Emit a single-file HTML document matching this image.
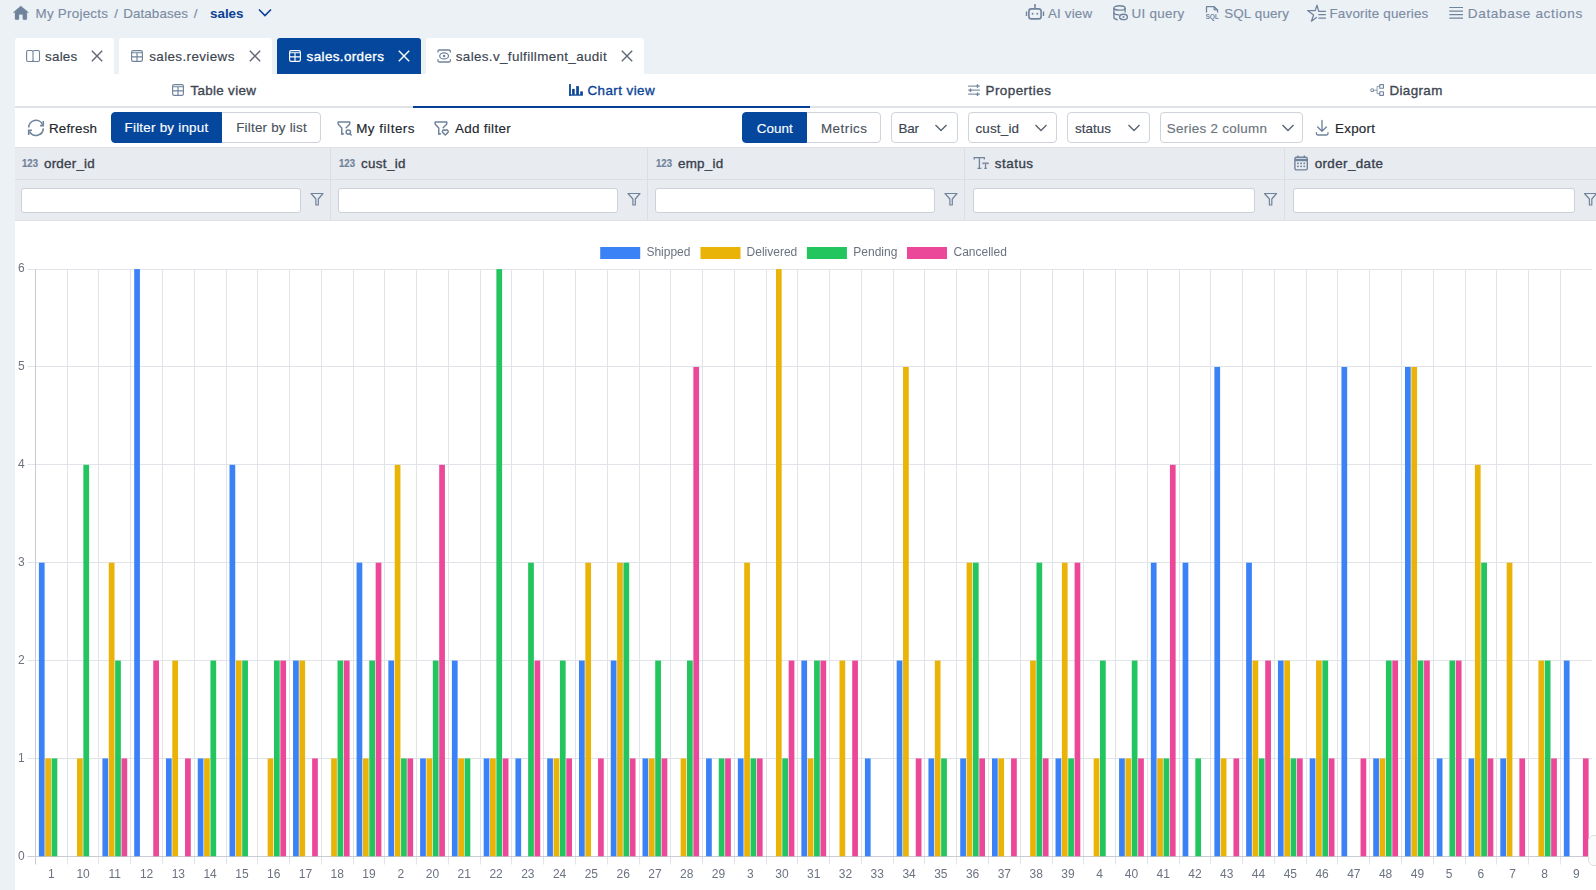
<!DOCTYPE html>
<html><head><meta charset="utf-8"><title>sales.orders - Chart view</title>
<style>
*{margin:0;padding:0;box-sizing:border-box}
html,body{width:1596px;height:890px;overflow:hidden;background:#ecf1f6;font-family:'Liberation Sans', Arial, sans-serif}
.t{position:absolute;white-space:nowrap}
.i{position:absolute;overflow:visible}
.tab{position:absolute;top:38px;height:36px;border-radius:3px 3px 0 0}
#panel{position:absolute;left:15px;top:74px;width:1600px;height:830px;background:#fff}
.hl{position:absolute;left:15px;width:1600px}
.vl{position:absolute;top:147px;height:74px;width:1px;background:#dbdfe4}
.btn{position:absolute;border:1px solid #cfd4da;background:#fff}
.inp{position:absolute;top:188px;height:25px;border:1px solid #cdd2d9;border-radius:3px;background:#fff}
#chart,#icons{position:absolute;left:0;top:0} #chart{will-change:transform}
</style></head>
<body>

<div class="t" style="left:35.50px;top:7.00px;font-size:13.4px;line-height:13.4px;font-weight:400;color:#7c8ca3;font-family:'Liberation Sans', Arial, sans-serif;letter-spacing:0.250px;-webkit-text-stroke:0.15px #7c8ca3;">My Projects</div>
<div class="t" style="left:114.30px;top:7.00px;font-size:13.4px;line-height:13.4px;font-weight:400;color:#7c8ca3;font-family:'Liberation Sans', Arial, sans-serif;-webkit-text-stroke:0.15px #7c8ca3;">/</div>
<div class="t" style="left:123.20px;top:7.00px;font-size:13.4px;line-height:13.4px;font-weight:400;color:#7c8ca3;font-family:'Liberation Sans', Arial, sans-serif;letter-spacing:0.100px;-webkit-text-stroke:0.15px #7c8ca3;">Databases</div>
<div class="t" style="left:193.80px;top:7.00px;font-size:13.4px;line-height:13.4px;font-weight:400;color:#7c8ca3;font-family:'Liberation Sans', Arial, sans-serif;-webkit-text-stroke:0.15px #7c8ca3;">/</div>
<div class="t" style="left:210.00px;top:7.00px;font-size:13.4px;line-height:13.4px;font-weight:700;color:#0b3f92;font-family:'Liberation Sans', Arial, sans-serif;">sales</div>


<div class="t" style="left:1048.00px;top:7.00px;font-size:13.4px;line-height:13.4px;font-weight:400;color:#7c8ca3;font-family:'Liberation Sans', Arial, sans-serif;letter-spacing:0.150px;-webkit-text-stroke:0.15px #7c8ca3;">AI view</div>

<div class="t" style="left:1131.60px;top:7.00px;font-size:13.4px;line-height:13.4px;font-weight:400;color:#7c8ca3;font-family:'Liberation Sans', Arial, sans-serif;letter-spacing:0.271px;-webkit-text-stroke:0.15px #7c8ca3;">UI query</div>

<div class="t" style="left:1224.20px;top:7.00px;font-size:13.4px;line-height:13.4px;font-weight:400;color:#7c8ca3;font-family:'Liberation Sans', Arial, sans-serif;letter-spacing:0.150px;-webkit-text-stroke:0.15px #7c8ca3;">SQL query</div>

<div class="t" style="left:1329.50px;top:7.00px;font-size:13.4px;line-height:13.4px;font-weight:400;color:#7c8ca3;font-family:'Liberation Sans', Arial, sans-serif;letter-spacing:0.187px;-webkit-text-stroke:0.15px #7c8ca3;">Favorite queries</div>

<div class="t" style="left:1467.80px;top:7.00px;font-size:13.6px;line-height:13.6px;font-weight:400;color:#7c8ca3;font-family:'Liberation Sans', Arial, sans-serif;letter-spacing:0.627px;-webkit-text-stroke:0.15px #7c8ca3;">Database actions</div>
<div class="tab" style="left:15px;width:99px;background:#fff"></div>
<div class="tab" style="left:119px;width:153px;background:#fff"></div>
<div class="tab" style="left:277px;width:144px;background:#05479c"></div>
<div class="tab" style="left:426px;width:218px;background:#fff"></div>

<div class="t" style="left:45.00px;top:50.00px;font-size:13.4px;line-height:13.4px;font-weight:400;color:#3a4350;font-family:'Liberation Sans', Arial, sans-serif;letter-spacing:0.250px;-webkit-text-stroke:0.15px #3a4350;">sales</div>


<div class="t" style="left:149.20px;top:50.00px;font-size:13.4px;line-height:13.4px;font-weight:400;color:#3a4350;font-family:'Liberation Sans', Arial, sans-serif;letter-spacing:0.400px;-webkit-text-stroke:0.15px #3a4350;">sales.reviews</div>


<div class="t" style="left:306.60px;top:50.00px;font-size:13.4px;line-height:13.4px;font-weight:400;color:#fff;font-family:'Liberation Sans', Arial, sans-serif;letter-spacing:0.391px;-webkit-text-stroke:0.35px #fff;">sales.orders</div>


<div class="t" style="left:455.80px;top:50.00px;font-size:13.4px;line-height:13.4px;font-weight:400;color:#3a4350;font-family:'Liberation Sans', Arial, sans-serif;letter-spacing:0.362px;-webkit-text-stroke:0.15px #3a4350;">sales.v_fulfillment_audit</div>

<div id="panel"></div>
<div class="hl" style="top:106px;height:2px;background:#dfe3e8"></div>
<div class="hl" style="left:413px;width:397px;top:106px;height:2px;background:#053f96"></div>

<div class="t" style="left:190.40px;top:84.00px;font-size:13.4px;line-height:13.4px;font-weight:400;color:#3d4652;font-family:'Liberation Sans', Arial, sans-serif;letter-spacing:0.333px;-webkit-text-stroke:0.35px #3d4652;">Table view</div>

<div class="t" style="left:587.50px;top:84.00px;font-size:13.4px;line-height:13.4px;font-weight:400;color:#0b4397;font-family:'Liberation Sans', Arial, sans-serif;letter-spacing:0.433px;-webkit-text-stroke:0.35px #0b4397;">Chart view</div>

<div class="t" style="left:985.50px;top:84.00px;font-size:13.4px;line-height:13.4px;font-weight:400;color:#3d4652;font-family:'Liberation Sans', Arial, sans-serif;letter-spacing:0.478px;-webkit-text-stroke:0.35px #3d4652;">Properties</div>

<div class="t" style="left:1389.40px;top:84.00px;font-size:13.4px;line-height:13.4px;font-weight:400;color:#3d4652;font-family:'Liberation Sans', Arial, sans-serif;letter-spacing:0.383px;-webkit-text-stroke:0.35px #3d4652;">Diagram</div>

<div class="t" style="left:48.90px;top:122.00px;font-size:13.4px;line-height:13.4px;font-weight:400;color:#22272e;font-family:'Liberation Sans', Arial, sans-serif;letter-spacing:0.200px;-webkit-text-stroke:0.15px #22272e;">Refresh</div>
<div class="btn" style="left:216px;top:112px;width:105px;height:31px;border-radius:0 4px 4px 0"></div>
<div class="btn" style="left:111px;top:112px;width:111px;height:31px;background:#05479c;border-color:#05479c;border-radius:4px 0 0 4px"></div>
<div class="t" style="left:124.50px;top:121.00px;font-size:13.4px;line-height:13.4px;font-weight:400;color:#fff;font-family:'Liberation Sans', Arial, sans-serif;letter-spacing:0.236px;-webkit-text-stroke:0.15px #fff;">Filter by input</div>
<div class="t" style="left:236.20px;top:121.00px;font-size:13.4px;line-height:13.4px;font-weight:400;color:#4a525d;font-family:'Liberation Sans', Arial, sans-serif;letter-spacing:0.215px;-webkit-text-stroke:0.15px #4a525d;">Filter by list</div>

<div class="t" style="left:356.20px;top:122.00px;font-size:13.4px;line-height:13.4px;font-weight:400;color:#22272e;font-family:'Liberation Sans', Arial, sans-serif;letter-spacing:0.533px;-webkit-text-stroke:0.15px #22272e;">My filters</div>

<div class="t" style="left:455.00px;top:122.00px;font-size:13.4px;line-height:13.4px;font-weight:400;color:#22272e;font-family:'Liberation Sans', Arial, sans-serif;letter-spacing:0.311px;-webkit-text-stroke:0.15px #22272e;">Add filter</div>
<div class="btn" style="left:800px;top:112px;width:81px;height:31px;border-radius:0 4px 4px 0"></div>
<div class="btn" style="left:742px;top:112px;width:65px;height:31px;background:#05479c;border-color:#05479c;border-radius:4px 0 0 4px"></div>
<div class="t" style="left:756.80px;top:122.00px;font-size:13.4px;line-height:13.4px;font-weight:400;color:#fff;font-family:'Liberation Sans', Arial, sans-serif;letter-spacing:0.075px;-webkit-text-stroke:0.15px #fff;">Count</div>
<div class="t" style="left:821.00px;top:122.00px;font-size:13.4px;line-height:13.4px;font-weight:400;color:#4a525d;font-family:'Liberation Sans', Arial, sans-serif;letter-spacing:0.467px;-webkit-text-stroke:0.15px #4a525d;">Metrics</div>
<div class="btn" style="left:891px;top:112px;width:67px;height:31px;border-radius:4px"></div>
<div class="t" style="left:898.50px;top:122.00px;font-size:13.4px;line-height:13.4px;font-weight:400;color:#3a4350;font-family:'Liberation Sans', Arial, sans-serif;letter-spacing:-0.150px;-webkit-text-stroke:0.15px #3a4350;">Bar</div>

<div class="btn" style="left:968px;top:112px;width:89px;height:31px;border-radius:4px"></div>
<div class="t" style="left:975.40px;top:122.00px;font-size:13.4px;line-height:13.4px;font-weight:400;color:#3a4350;font-family:'Liberation Sans', Arial, sans-serif;letter-spacing:0.200px;-webkit-text-stroke:0.15px #3a4350;">cust_id</div>

<div class="btn" style="left:1067px;top:112px;width:83px;height:31px;border-radius:4px"></div>
<div class="t" style="left:1075.00px;top:122.00px;font-size:13.4px;line-height:13.4px;font-weight:400;color:#3a4350;font-family:'Liberation Sans', Arial, sans-serif;letter-spacing:0.060px;-webkit-text-stroke:0.15px #3a4350;">status</div>

<div class="btn" style="left:1160px;top:112px;width:143px;height:31px;border-radius:4px"></div>
<div class="t" style="left:1166.70px;top:122.00px;font-size:13.4px;line-height:13.4px;font-weight:400;color:#6b737d;font-family:'Liberation Sans', Arial, sans-serif;letter-spacing:0.300px;-webkit-text-stroke:0.15px #6b737d;">Series 2 column</div>


<div class="t" style="left:1335.00px;top:122.00px;font-size:13.4px;line-height:13.4px;font-weight:400;color:#22272e;font-family:'Liberation Sans', Arial, sans-serif;letter-spacing:0.260px;-webkit-text-stroke:0.15px #22272e;">Export</div>
<div class="hl" style="top:147px;height:74px;background:#e8ebef"></div>
<div class="hl" style="top:147px;height:1px;background:#dde1e6"></div>
<div class="hl" style="top:179px;height:1px;background:#dbdfe4"></div>
<div class="hl" style="top:220px;height:1px;background:#dde1e6"></div>
<div class="vl" style="left:330px"></div>
<div class="vl" style="left:647px"></div>
<div class="vl" style="left:964px"></div>
<div class="vl" style="left:1284px"></div>
<div class="t" style="left:22.20px;top:158.00px;font-size:11px;line-height:11px;font-weight:700;color:#70839c;font-family:'Liberation Sans', Arial, sans-serif;transform:scaleX(0.87);transform-origin:0 0;-webkit-text-stroke:0.2px #70839c;">123</div>
<div class="t" style="left:44.00px;top:157.00px;font-size:13.4px;line-height:13.4px;font-weight:400;color:#38414d;font-family:'Liberation Sans', Arial, sans-serif;letter-spacing:0.229px;-webkit-text-stroke:0.35px #38414d;">order_id</div>
<div class="t" style="left:339.30px;top:158.00px;font-size:11px;line-height:11px;font-weight:700;color:#70839c;font-family:'Liberation Sans', Arial, sans-serif;transform:scaleX(0.87);transform-origin:0 0;-webkit-text-stroke:0.2px #70839c;">123</div>
<div class="t" style="left:360.90px;top:157.00px;font-size:13.4px;line-height:13.4px;font-weight:400;color:#38414d;font-family:'Liberation Sans', Arial, sans-serif;letter-spacing:0.367px;-webkit-text-stroke:0.35px #38414d;">cust_id</div>
<div class="t" style="left:656.30px;top:158.00px;font-size:11px;line-height:11px;font-weight:700;color:#70839c;font-family:'Liberation Sans', Arial, sans-serif;transform:scaleX(0.87);transform-origin:0 0;-webkit-text-stroke:0.2px #70839c;">123</div>
<div class="t" style="left:677.90px;top:157.00px;font-size:13.4px;line-height:13.4px;font-weight:400;color:#38414d;font-family:'Liberation Sans', Arial, sans-serif;letter-spacing:0.300px;-webkit-text-stroke:0.35px #38414d;">emp_id</div>

<div class="t" style="left:994.80px;top:157.00px;font-size:13.4px;line-height:13.4px;font-weight:400;color:#38414d;font-family:'Liberation Sans', Arial, sans-serif;letter-spacing:0.500px;-webkit-text-stroke:0.35px #38414d;">status</div>

<div class="t" style="left:1314.70px;top:157.00px;font-size:13.4px;line-height:13.4px;font-weight:400;color:#38414d;font-family:'Liberation Sans', Arial, sans-serif;letter-spacing:0.389px;-webkit-text-stroke:0.35px #38414d;">order_date</div>
<div class="inp" style="left:21px;width:280px"></div>

<div class="inp" style="left:338px;width:280px"></div>

<div class="inp" style="left:655px;width:280px"></div>

<div class="inp" style="left:972.5px;width:282.0px"></div>

<div class="inp" style="left:1292.5px;width:282.0px"></div>

<svg id="chart" width="1596" height="890" viewBox="0 0 1596 890" font-family="'Liberation Sans', Arial, sans-serif"><line x1="27.5" y1="758.5" x2="1592" y2="758.5" stroke="#e0e4e9" stroke-width="1"/><line x1="27.5" y1="660.5" x2="1592" y2="660.5" stroke="#e0e4e9" stroke-width="1"/><line x1="27.5" y1="562.5" x2="1592" y2="562.5" stroke="#e0e4e9" stroke-width="1"/><line x1="27.5" y1="464.5" x2="1592" y2="464.5" stroke="#e0e4e9" stroke-width="1"/><line x1="27.5" y1="366.5" x2="1592" y2="366.5" stroke="#e0e4e9" stroke-width="1"/><line x1="27.5" y1="269.5" x2="1592" y2="269.5" stroke="#e0e4e9" stroke-width="1"/><text x="24.6" y="860" text-anchor="end" font-size="12" fill="#6b7280">0</text><text x="24.6" y="762" text-anchor="end" font-size="12" fill="#6b7280">1</text><text x="24.6" y="664" text-anchor="end" font-size="12" fill="#6b7280">2</text><text x="24.6" y="566" text-anchor="end" font-size="12" fill="#6b7280">3</text><text x="24.6" y="468" text-anchor="end" font-size="12" fill="#6b7280">4</text><text x="24.6" y="370" text-anchor="end" font-size="12" fill="#6b7280">5</text><text x="24.6" y="272" text-anchor="end" font-size="12" fill="#6b7280">6</text><line x1="67.5" y1="269" x2="67.5" y2="864.5" stroke="#e0e4e9" stroke-width="1"/><line x1="98.5" y1="269" x2="98.5" y2="864.5" stroke="#e0e4e9" stroke-width="1"/><line x1="130.5" y1="269" x2="130.5" y2="864.5" stroke="#e0e4e9" stroke-width="1"/><line x1="162.5" y1="269" x2="162.5" y2="864.5" stroke="#e0e4e9" stroke-width="1"/><line x1="194.5" y1="269" x2="194.5" y2="864.5" stroke="#e0e4e9" stroke-width="1"/><line x1="226.5" y1="269" x2="226.5" y2="864.5" stroke="#e0e4e9" stroke-width="1"/><line x1="257.5" y1="269" x2="257.5" y2="864.5" stroke="#e0e4e9" stroke-width="1"/><line x1="289.5" y1="269" x2="289.5" y2="864.5" stroke="#e0e4e9" stroke-width="1"/><line x1="321.5" y1="269" x2="321.5" y2="864.5" stroke="#e0e4e9" stroke-width="1"/><line x1="353.5" y1="269" x2="353.5" y2="864.5" stroke="#e0e4e9" stroke-width="1"/><line x1="384.5" y1="269" x2="384.5" y2="864.5" stroke="#e0e4e9" stroke-width="1"/><line x1="416.5" y1="269" x2="416.5" y2="864.5" stroke="#e0e4e9" stroke-width="1"/><line x1="448.5" y1="269" x2="448.5" y2="864.5" stroke="#e0e4e9" stroke-width="1"/><line x1="480.5" y1="269" x2="480.5" y2="864.5" stroke="#e0e4e9" stroke-width="1"/><line x1="511.5" y1="269" x2="511.5" y2="864.5" stroke="#e0e4e9" stroke-width="1"/><line x1="543.5" y1="269" x2="543.5" y2="864.5" stroke="#e0e4e9" stroke-width="1"/><line x1="575.5" y1="269" x2="575.5" y2="864.5" stroke="#e0e4e9" stroke-width="1"/><line x1="607.5" y1="269" x2="607.5" y2="864.5" stroke="#e0e4e9" stroke-width="1"/><line x1="639.5" y1="269" x2="639.5" y2="864.5" stroke="#e0e4e9" stroke-width="1"/><line x1="670.5" y1="269" x2="670.5" y2="864.5" stroke="#e0e4e9" stroke-width="1"/><line x1="702.5" y1="269" x2="702.5" y2="864.5" stroke="#e0e4e9" stroke-width="1"/><line x1="734.5" y1="269" x2="734.5" y2="864.5" stroke="#e0e4e9" stroke-width="1"/><line x1="766.5" y1="269" x2="766.5" y2="864.5" stroke="#e0e4e9" stroke-width="1"/><line x1="797.5" y1="269" x2="797.5" y2="864.5" stroke="#e0e4e9" stroke-width="1"/><line x1="829.5" y1="269" x2="829.5" y2="864.5" stroke="#e0e4e9" stroke-width="1"/><line x1="861.5" y1="269" x2="861.5" y2="864.5" stroke="#e0e4e9" stroke-width="1"/><line x1="893.5" y1="269" x2="893.5" y2="864.5" stroke="#e0e4e9" stroke-width="1"/><line x1="924.5" y1="269" x2="924.5" y2="864.5" stroke="#e0e4e9" stroke-width="1"/><line x1="956.5" y1="269" x2="956.5" y2="864.5" stroke="#e0e4e9" stroke-width="1"/><line x1="988.5" y1="269" x2="988.5" y2="864.5" stroke="#e0e4e9" stroke-width="1"/><line x1="1020.5" y1="269" x2="1020.5" y2="864.5" stroke="#e0e4e9" stroke-width="1"/><line x1="1052.5" y1="269" x2="1052.5" y2="864.5" stroke="#e0e4e9" stroke-width="1"/><line x1="1083.5" y1="269" x2="1083.5" y2="864.5" stroke="#e0e4e9" stroke-width="1"/><line x1="1115.5" y1="269" x2="1115.5" y2="864.5" stroke="#e0e4e9" stroke-width="1"/><line x1="1147.5" y1="269" x2="1147.5" y2="864.5" stroke="#e0e4e9" stroke-width="1"/><line x1="1179.5" y1="269" x2="1179.5" y2="864.5" stroke="#e0e4e9" stroke-width="1"/><line x1="1210.5" y1="269" x2="1210.5" y2="864.5" stroke="#e0e4e9" stroke-width="1"/><line x1="1242.5" y1="269" x2="1242.5" y2="864.5" stroke="#e0e4e9" stroke-width="1"/><line x1="1274.5" y1="269" x2="1274.5" y2="864.5" stroke="#e0e4e9" stroke-width="1"/><line x1="1306.5" y1="269" x2="1306.5" y2="864.5" stroke="#e0e4e9" stroke-width="1"/><line x1="1337.5" y1="269" x2="1337.5" y2="864.5" stroke="#e0e4e9" stroke-width="1"/><line x1="1369.5" y1="269" x2="1369.5" y2="864.5" stroke="#e0e4e9" stroke-width="1"/><line x1="1401.5" y1="269" x2="1401.5" y2="864.5" stroke="#e0e4e9" stroke-width="1"/><line x1="1433.5" y1="269" x2="1433.5" y2="864.5" stroke="#e0e4e9" stroke-width="1"/><line x1="1465.5" y1="269" x2="1465.5" y2="864.5" stroke="#e0e4e9" stroke-width="1"/><line x1="1496.5" y1="269" x2="1496.5" y2="864.5" stroke="#e0e4e9" stroke-width="1"/><line x1="1528.5" y1="269" x2="1528.5" y2="864.5" stroke="#e0e4e9" stroke-width="1"/><line x1="1560.5" y1="269" x2="1560.5" y2="864.5" stroke="#e0e4e9" stroke-width="1"/><line x1="27.5" y1="856.5" x2="1592" y2="856.5" stroke="#c9cdd3" stroke-width="1"/><line x1="35.5" y1="269" x2="35.5" y2="864.5" stroke="#c9cdd3" stroke-width="1"/><rect x="38.89" y="562.70" width="5.72" height="293.60" fill="#3b82f6"/><rect x="45.25" y="758.43" width="5.72" height="97.87" fill="#eab308"/><rect x="51.60" y="758.43" width="5.72" height="97.87" fill="#22c55e"/><text x="51.28" y="878" text-anchor="middle" font-size="12" fill="#6b7280">1</text><rect x="77.02" y="758.43" width="5.72" height="97.87" fill="#eab308"/><rect x="83.37" y="464.83" width="5.72" height="391.47" fill="#22c55e"/><text x="83.06" y="878" text-anchor="middle" font-size="12" fill="#6b7280">10</text><rect x="102.43" y="758.43" width="5.72" height="97.87" fill="#3b82f6"/><rect x="108.79" y="562.70" width="5.72" height="293.60" fill="#eab308"/><rect x="115.14" y="660.57" width="5.72" height="195.73" fill="#22c55e"/><rect x="121.50" y="758.43" width="5.72" height="97.87" fill="#ec4899"/><text x="114.82" y="878" text-anchor="middle" font-size="12" fill="#6b7280">11</text><rect x="134.20" y="269.10" width="5.72" height="587.20" fill="#3b82f6"/><rect x="153.27" y="660.57" width="5.72" height="195.73" fill="#ec4899"/><text x="146.59" y="878" text-anchor="middle" font-size="12" fill="#6b7280">12</text><rect x="165.97" y="758.43" width="5.72" height="97.87" fill="#3b82f6"/><rect x="172.33" y="660.57" width="5.72" height="195.73" fill="#eab308"/><rect x="185.04" y="758.43" width="5.72" height="97.87" fill="#ec4899"/><text x="178.37" y="878" text-anchor="middle" font-size="12" fill="#6b7280">13</text><rect x="197.74" y="758.43" width="5.72" height="97.87" fill="#3b82f6"/><rect x="204.10" y="758.43" width="5.72" height="97.87" fill="#eab308"/><rect x="210.45" y="660.57" width="5.72" height="195.73" fill="#22c55e"/><text x="210.13" y="878" text-anchor="middle" font-size="12" fill="#6b7280">14</text><rect x="229.51" y="464.83" width="5.72" height="391.47" fill="#3b82f6"/><rect x="235.87" y="660.57" width="5.72" height="195.73" fill="#eab308"/><rect x="242.22" y="660.57" width="5.72" height="195.73" fill="#22c55e"/><text x="241.91" y="878" text-anchor="middle" font-size="12" fill="#6b7280">15</text><rect x="267.64" y="758.43" width="5.72" height="97.87" fill="#eab308"/><rect x="273.99" y="660.57" width="5.72" height="195.73" fill="#22c55e"/><rect x="280.35" y="660.57" width="5.72" height="195.73" fill="#ec4899"/><text x="273.68" y="878" text-anchor="middle" font-size="12" fill="#6b7280">16</text><rect x="293.05" y="660.57" width="5.72" height="195.73" fill="#3b82f6"/><rect x="299.41" y="660.57" width="5.72" height="195.73" fill="#eab308"/><rect x="312.12" y="758.43" width="5.72" height="97.87" fill="#ec4899"/><text x="305.44" y="878" text-anchor="middle" font-size="12" fill="#6b7280">17</text><rect x="331.18" y="758.43" width="5.72" height="97.87" fill="#eab308"/><rect x="337.53" y="660.57" width="5.72" height="195.73" fill="#22c55e"/><rect x="343.89" y="660.57" width="5.72" height="195.73" fill="#ec4899"/><text x="337.21" y="878" text-anchor="middle" font-size="12" fill="#6b7280">18</text><rect x="356.59" y="562.70" width="5.72" height="293.60" fill="#3b82f6"/><rect x="362.95" y="758.43" width="5.72" height="97.87" fill="#eab308"/><rect x="369.30" y="660.57" width="5.72" height="195.73" fill="#22c55e"/><rect x="375.66" y="562.70" width="5.72" height="293.60" fill="#ec4899"/><text x="368.98" y="878" text-anchor="middle" font-size="12" fill="#6b7280">19</text><rect x="388.36" y="660.57" width="5.72" height="195.73" fill="#3b82f6"/><rect x="394.72" y="464.83" width="5.72" height="391.47" fill="#eab308"/><rect x="401.07" y="758.43" width="5.72" height="97.87" fill="#22c55e"/><rect x="407.43" y="758.43" width="5.72" height="97.87" fill="#ec4899"/><text x="400.75" y="878" text-anchor="middle" font-size="12" fill="#6b7280">2</text><rect x="420.13" y="758.43" width="5.72" height="97.87" fill="#3b82f6"/><rect x="426.49" y="758.43" width="5.72" height="97.87" fill="#eab308"/><rect x="432.84" y="660.57" width="5.72" height="195.73" fill="#22c55e"/><rect x="439.20" y="464.83" width="5.72" height="391.47" fill="#ec4899"/><text x="432.52" y="878" text-anchor="middle" font-size="12" fill="#6b7280">20</text><rect x="451.90" y="660.57" width="5.72" height="195.73" fill="#3b82f6"/><rect x="458.26" y="758.43" width="5.72" height="97.87" fill="#eab308"/><rect x="464.61" y="758.43" width="5.72" height="97.87" fill="#22c55e"/><text x="464.29" y="878" text-anchor="middle" font-size="12" fill="#6b7280">21</text><rect x="483.67" y="758.43" width="5.72" height="97.87" fill="#3b82f6"/><rect x="490.03" y="758.43" width="5.72" height="97.87" fill="#eab308"/><rect x="496.38" y="269.10" width="5.72" height="587.20" fill="#22c55e"/><rect x="502.74" y="758.43" width="5.72" height="97.87" fill="#ec4899"/><text x="496.06" y="878" text-anchor="middle" font-size="12" fill="#6b7280">22</text><rect x="515.44" y="758.43" width="5.72" height="97.87" fill="#3b82f6"/><rect x="528.15" y="562.70" width="5.72" height="293.60" fill="#22c55e"/><rect x="534.51" y="660.57" width="5.72" height="195.73" fill="#ec4899"/><text x="527.84" y="878" text-anchor="middle" font-size="12" fill="#6b7280">23</text><rect x="547.21" y="758.43" width="5.72" height="97.87" fill="#3b82f6"/><rect x="553.57" y="758.43" width="5.72" height="97.87" fill="#eab308"/><rect x="559.92" y="660.57" width="5.72" height="195.73" fill="#22c55e"/><rect x="566.28" y="758.43" width="5.72" height="97.87" fill="#ec4899"/><text x="559.61" y="878" text-anchor="middle" font-size="12" fill="#6b7280">24</text><rect x="578.98" y="660.57" width="5.72" height="195.73" fill="#3b82f6"/><rect x="585.34" y="562.70" width="5.72" height="293.60" fill="#eab308"/><rect x="598.05" y="758.43" width="5.72" height="97.87" fill="#ec4899"/><text x="591.38" y="878" text-anchor="middle" font-size="12" fill="#6b7280">25</text><rect x="610.75" y="660.57" width="5.72" height="195.73" fill="#3b82f6"/><rect x="617.11" y="562.70" width="5.72" height="293.60" fill="#eab308"/><rect x="623.46" y="562.70" width="5.72" height="293.60" fill="#22c55e"/><rect x="629.82" y="758.43" width="5.72" height="97.87" fill="#ec4899"/><text x="623.14" y="878" text-anchor="middle" font-size="12" fill="#6b7280">26</text><rect x="642.52" y="758.43" width="5.72" height="97.87" fill="#3b82f6"/><rect x="648.88" y="758.43" width="5.72" height="97.87" fill="#eab308"/><rect x="655.23" y="660.57" width="5.72" height="195.73" fill="#22c55e"/><rect x="661.59" y="758.43" width="5.72" height="97.87" fill="#ec4899"/><text x="654.91" y="878" text-anchor="middle" font-size="12" fill="#6b7280">27</text><rect x="680.65" y="758.43" width="5.72" height="97.87" fill="#eab308"/><rect x="687.00" y="660.57" width="5.72" height="195.73" fill="#22c55e"/><rect x="693.36" y="366.96" width="5.72" height="489.34" fill="#ec4899"/><text x="686.68" y="878" text-anchor="middle" font-size="12" fill="#6b7280">28</text><rect x="706.06" y="758.43" width="5.72" height="97.87" fill="#3b82f6"/><rect x="718.77" y="758.43" width="5.72" height="97.87" fill="#22c55e"/><rect x="725.13" y="758.43" width="5.72" height="97.87" fill="#ec4899"/><text x="718.45" y="878" text-anchor="middle" font-size="12" fill="#6b7280">29</text><rect x="737.83" y="758.43" width="5.72" height="97.87" fill="#3b82f6"/><rect x="744.19" y="562.70" width="5.72" height="293.60" fill="#eab308"/><rect x="750.54" y="758.43" width="5.72" height="97.87" fill="#22c55e"/><rect x="756.90" y="758.43" width="5.72" height="97.87" fill="#ec4899"/><text x="750.23" y="878" text-anchor="middle" font-size="12" fill="#6b7280">3</text><rect x="775.96" y="269.10" width="5.72" height="587.20" fill="#eab308"/><rect x="782.31" y="758.43" width="5.72" height="97.87" fill="#22c55e"/><rect x="788.67" y="660.57" width="5.72" height="195.73" fill="#ec4899"/><text x="782.00" y="878" text-anchor="middle" font-size="12" fill="#6b7280">30</text><rect x="801.37" y="660.57" width="5.72" height="195.73" fill="#3b82f6"/><rect x="807.73" y="758.43" width="5.72" height="97.87" fill="#eab308"/><rect x="814.08" y="660.57" width="5.72" height="195.73" fill="#22c55e"/><rect x="820.44" y="660.57" width="5.72" height="195.73" fill="#ec4899"/><text x="813.76" y="878" text-anchor="middle" font-size="12" fill="#6b7280">31</text><rect x="839.50" y="660.57" width="5.72" height="195.73" fill="#eab308"/><rect x="852.21" y="660.57" width="5.72" height="195.73" fill="#ec4899"/><text x="845.53" y="878" text-anchor="middle" font-size="12" fill="#6b7280">32</text><rect x="864.91" y="758.43" width="5.72" height="97.87" fill="#3b82f6"/><text x="877.30" y="878" text-anchor="middle" font-size="12" fill="#6b7280">33</text><rect x="896.68" y="660.57" width="5.72" height="195.73" fill="#3b82f6"/><rect x="903.04" y="366.96" width="5.72" height="489.34" fill="#eab308"/><rect x="915.75" y="758.43" width="5.72" height="97.87" fill="#ec4899"/><text x="909.07" y="878" text-anchor="middle" font-size="12" fill="#6b7280">34</text><rect x="928.45" y="758.43" width="5.72" height="97.87" fill="#3b82f6"/><rect x="934.81" y="660.57" width="5.72" height="195.73" fill="#eab308"/><rect x="941.16" y="758.43" width="5.72" height="97.87" fill="#22c55e"/><text x="940.84" y="878" text-anchor="middle" font-size="12" fill="#6b7280">35</text><rect x="960.22" y="758.43" width="5.72" height="97.87" fill="#3b82f6"/><rect x="966.58" y="562.70" width="5.72" height="293.60" fill="#eab308"/><rect x="972.93" y="562.70" width="5.72" height="293.60" fill="#22c55e"/><rect x="979.29" y="758.43" width="5.72" height="97.87" fill="#ec4899"/><text x="972.62" y="878" text-anchor="middle" font-size="12" fill="#6b7280">36</text><rect x="991.99" y="758.43" width="5.72" height="97.87" fill="#3b82f6"/><rect x="998.35" y="758.43" width="5.72" height="97.87" fill="#eab308"/><rect x="1011.06" y="758.43" width="5.72" height="97.87" fill="#ec4899"/><text x="1004.38" y="878" text-anchor="middle" font-size="12" fill="#6b7280">37</text><rect x="1030.12" y="660.57" width="5.72" height="195.73" fill="#eab308"/><rect x="1036.47" y="562.70" width="5.72" height="293.60" fill="#22c55e"/><rect x="1042.83" y="758.43" width="5.72" height="97.87" fill="#ec4899"/><text x="1036.15" y="878" text-anchor="middle" font-size="12" fill="#6b7280">38</text><rect x="1055.53" y="758.43" width="5.72" height="97.87" fill="#3b82f6"/><rect x="1061.89" y="562.70" width="5.72" height="293.60" fill="#eab308"/><rect x="1068.24" y="758.43" width="5.72" height="97.87" fill="#22c55e"/><rect x="1074.60" y="562.70" width="5.72" height="293.60" fill="#ec4899"/><text x="1067.93" y="878" text-anchor="middle" font-size="12" fill="#6b7280">39</text><rect x="1093.66" y="758.43" width="5.72" height="97.87" fill="#eab308"/><rect x="1100.01" y="660.57" width="5.72" height="195.73" fill="#22c55e"/><text x="1099.70" y="878" text-anchor="middle" font-size="12" fill="#6b7280">4</text><rect x="1119.07" y="758.43" width="5.72" height="97.87" fill="#3b82f6"/><rect x="1125.43" y="758.43" width="5.72" height="97.87" fill="#eab308"/><rect x="1131.78" y="660.57" width="5.72" height="195.73" fill="#22c55e"/><rect x="1138.14" y="758.43" width="5.72" height="97.87" fill="#ec4899"/><text x="1131.47" y="878" text-anchor="middle" font-size="12" fill="#6b7280">40</text><rect x="1150.84" y="562.70" width="5.72" height="293.60" fill="#3b82f6"/><rect x="1157.20" y="758.43" width="5.72" height="97.87" fill="#eab308"/><rect x="1163.55" y="758.43" width="5.72" height="97.87" fill="#22c55e"/><rect x="1169.91" y="464.83" width="5.72" height="391.47" fill="#ec4899"/><text x="1163.24" y="878" text-anchor="middle" font-size="12" fill="#6b7280">41</text><rect x="1182.61" y="562.70" width="5.72" height="293.60" fill="#3b82f6"/><rect x="1195.32" y="758.43" width="5.72" height="97.87" fill="#22c55e"/><text x="1195.01" y="878" text-anchor="middle" font-size="12" fill="#6b7280">42</text><rect x="1214.38" y="366.96" width="5.72" height="489.34" fill="#3b82f6"/><rect x="1220.74" y="758.43" width="5.72" height="97.87" fill="#eab308"/><rect x="1233.45" y="758.43" width="5.72" height="97.87" fill="#ec4899"/><text x="1226.78" y="878" text-anchor="middle" font-size="12" fill="#6b7280">43</text><rect x="1246.15" y="562.70" width="5.72" height="293.60" fill="#3b82f6"/><rect x="1252.51" y="660.57" width="5.72" height="195.73" fill="#eab308"/><rect x="1258.86" y="758.43" width="5.72" height="97.87" fill="#22c55e"/><rect x="1265.22" y="660.57" width="5.72" height="195.73" fill="#ec4899"/><text x="1258.55" y="878" text-anchor="middle" font-size="12" fill="#6b7280">44</text><rect x="1277.92" y="660.57" width="5.72" height="195.73" fill="#3b82f6"/><rect x="1284.28" y="660.57" width="5.72" height="195.73" fill="#eab308"/><rect x="1290.63" y="758.43" width="5.72" height="97.87" fill="#22c55e"/><rect x="1296.99" y="758.43" width="5.72" height="97.87" fill="#ec4899"/><text x="1290.32" y="878" text-anchor="middle" font-size="12" fill="#6b7280">45</text><rect x="1309.69" y="758.43" width="5.72" height="97.87" fill="#3b82f6"/><rect x="1316.05" y="660.57" width="5.72" height="195.73" fill="#eab308"/><rect x="1322.40" y="660.57" width="5.72" height="195.73" fill="#22c55e"/><rect x="1328.76" y="758.43" width="5.72" height="97.87" fill="#ec4899"/><text x="1322.09" y="878" text-anchor="middle" font-size="12" fill="#6b7280">46</text><rect x="1341.46" y="366.96" width="5.72" height="489.34" fill="#3b82f6"/><rect x="1360.53" y="758.43" width="5.72" height="97.87" fill="#ec4899"/><text x="1353.86" y="878" text-anchor="middle" font-size="12" fill="#6b7280">47</text><rect x="1373.23" y="758.43" width="5.72" height="97.87" fill="#3b82f6"/><rect x="1379.59" y="758.43" width="5.72" height="97.87" fill="#eab308"/><rect x="1385.94" y="660.57" width="5.72" height="195.73" fill="#22c55e"/><rect x="1392.30" y="660.57" width="5.72" height="195.73" fill="#ec4899"/><text x="1385.62" y="878" text-anchor="middle" font-size="12" fill="#6b7280">48</text><rect x="1405.00" y="366.96" width="5.72" height="489.34" fill="#3b82f6"/><rect x="1411.36" y="366.96" width="5.72" height="489.34" fill="#eab308"/><rect x="1417.71" y="660.57" width="5.72" height="195.73" fill="#22c55e"/><rect x="1424.07" y="660.57" width="5.72" height="195.73" fill="#ec4899"/><text x="1417.39" y="878" text-anchor="middle" font-size="12" fill="#6b7280">49</text><rect x="1436.77" y="758.43" width="5.72" height="97.87" fill="#3b82f6"/><rect x="1449.48" y="660.57" width="5.72" height="195.73" fill="#22c55e"/><rect x="1455.84" y="660.57" width="5.72" height="195.73" fill="#ec4899"/><text x="1449.16" y="878" text-anchor="middle" font-size="12" fill="#6b7280">5</text><rect x="1468.54" y="758.43" width="5.72" height="97.87" fill="#3b82f6"/><rect x="1474.90" y="464.83" width="5.72" height="391.47" fill="#eab308"/><rect x="1481.25" y="562.70" width="5.72" height="293.60" fill="#22c55e"/><rect x="1487.61" y="758.43" width="5.72" height="97.87" fill="#ec4899"/><text x="1480.94" y="878" text-anchor="middle" font-size="12" fill="#6b7280">6</text><rect x="1500.31" y="758.43" width="5.72" height="97.87" fill="#3b82f6"/><rect x="1506.67" y="562.70" width="5.72" height="293.60" fill="#eab308"/><rect x="1519.38" y="758.43" width="5.72" height="97.87" fill="#ec4899"/><text x="1512.71" y="878" text-anchor="middle" font-size="12" fill="#6b7280">7</text><rect x="1538.44" y="660.57" width="5.72" height="195.73" fill="#eab308"/><rect x="1544.79" y="660.57" width="5.72" height="195.73" fill="#22c55e"/><rect x="1551.15" y="758.43" width="5.72" height="97.87" fill="#ec4899"/><text x="1544.48" y="878" text-anchor="middle" font-size="12" fill="#6b7280">8</text><rect x="1563.85" y="660.57" width="5.72" height="195.73" fill="#3b82f6"/><rect x="1582.92" y="758.43" width="5.72" height="97.87" fill="#ec4899"/><text x="1576.25" y="878" text-anchor="middle" font-size="12" fill="#6b7280">9</text><rect x="600.2" y="247" width="40" height="12" fill="#3b82f6"/><text x="646.4" y="256" font-size="12" fill="#6b7280">Shipped</text><rect x="700.5" y="247" width="40" height="12" fill="#eab308"/><text x="746.6" y="256" font-size="12" fill="#6b7280">Delivered</text><rect x="806.9" y="247" width="40" height="12" fill="#22c55e"/><text x="853.3" y="256" font-size="12" fill="#6b7280">Pending</text><rect x="907" y="247" width="40" height="12" fill="#ec4899"/><text x="953.5" y="256" font-size="12" fill="#6b7280">Cancelled</text></svg>
<svg id="icons" width="1596" height="890" viewBox="0 0 1596 890" fill="none"><g transform="translate(0,0)"><path d="M20.8 5.9 L28.7 12.6 H26.9 V18.65 Q26.9 19.65 25.9 19.65 H23.6 Q22.8 19.65 22.8 18.85 V14.6 H19 V18.85 Q19 19.65 18.2 19.65 H16 Q15 19.65 15 18.65 V12.6 H13.1 Z" fill="#70839c" stroke="#70839c" stroke-width="0.3" stroke-linejoin="round"/></g><g transform="translate(258,8)"><path d="M1 1.5 L7 7.5 L13 1.5" stroke="#0b3f92" stroke-width="1.6" fill="none"/></g><g transform="translate(0,0)"><rect x="1028.9" y="8.85" width="12.2" height="10.05" rx="2.4" stroke="#70839c" stroke-width="1.6"/><line x1="1035" y1="8.5" x2="1035" y2="5" stroke="#70839c" stroke-width="1.5"/><circle cx="1035" cy="4.9" r="0.9" fill="#70839c"/><line x1="1026.5" y1="11.5" x2="1026.5" y2="16" stroke="#70839c" stroke-width="1.4"/><line x1="1043.5" y1="11.5" x2="1043.5" y2="16" stroke="#70839c" stroke-width="1.4"/><circle cx="1032.6" cy="13.7" r="0.95" fill="#70839c"/><circle cx="1037.3" cy="13.7" r="0.95" fill="#70839c"/></g><g transform="translate(1113,5)"><ellipse cx="6.5" cy="2.9" rx="5.6" ry="2.2" stroke="#70839c" stroke-width="1.4"/><path d="M0.9 2.9 V12.6 C0.9 13.6 2.6 14.4 4.7 14.7" stroke="#70839c" stroke-width="1.4"/><path d="M12.1 2.9 V7.6" stroke="#70839c" stroke-width="1.4"/><path d="M0.9 7.6 C0.9 9 3.4 9.9 6.4 9.9" stroke="#70839c" stroke-width="1.4"/><ellipse cx="10.5" cy="11.9" rx="3.9" ry="2.7" stroke="#70839c" stroke-width="1.4"/><circle cx="10.5" cy="11.9" r="1" fill="#70839c"/></g><g transform="translate(0,0)"><path d="M1206.5 12.4 V6.7 H1214.2 L1217.6 10.1 V12.4" stroke="#70839c" stroke-width="1.3" fill="none" stroke-linejoin="round"/><path d="M1214 6.8 V10 H1217.4 Z" fill="#70839c" fill-opacity="0.55" stroke="#70839c" stroke-width="0.9" stroke-linejoin="round"/><text x="1205.7" y="19" font-family="'Liberation Sans', sans-serif" font-weight="700" font-size="6.9" textLength="13.2" lengthAdjust="spacingAndGlyphs" fill="#70839c">SQL</text></g><g transform="translate(0,0)"><path d="M1316.4 17.4 L1311.4 21.2 L1313.6 15 L1307.6 10.6 H1315.2 L1317 5.2 L1318.6 10.9" stroke="#70839c" stroke-width="1.25" fill="none" stroke-linejoin="round" stroke-linecap="round"/><path d="M1318.4 11.3 H1325.9 M1318.4 14.7 H1325.9 M1318.4 18.2 H1325.9" stroke="#70839c" stroke-width="1.25"/></g><g transform="translate(0,0)"><path d="M1449.3 7.5 H1463 M1449.3 11.1 H1463 M1449.3 14.7 H1463 M1449.3 18.2 H1463" stroke="#70839c" stroke-width="1.2"/></g><g transform="translate(0,0)"><path d="M33 52 Q33 50.5 31.5 50.5 H28 Q26.6 50.5 26.6 51.9 V60.1 Q26.6 61.5 28 61.5 H31.5 Q33 61.5 33 60 Q33 61.5 34.5 61.5 H38.1 Q39.5 61.5 39.5 60.1 V51.9 Q39.5 50.5 38.1 50.5 H34.5 Q33 50.5 33 52 V60" stroke="#70839c" stroke-width="1.1" fill="none"/></g><g transform="translate(91,50)"><path d="M0.8 0.8 L11.2 11.2 M11.2 0.8 L0.8 11.2" stroke="#5f6772" stroke-width="1.4"/></g><g transform="translate(131,50)"><rect x="0.6" y="0.6" width="10.8" height="10.8" rx="1.6" stroke="#70839c" stroke-width="1.15"/><path d="M0.6 2.7 H11.4 M0.6 6.8 H11.4 M6 2.7 V11.4" stroke="#70839c" stroke-width="1.15"/></g><g transform="translate(249,50)"><path d="M0.8 0.8 L11.2 11.2 M11.2 0.8 L0.8 11.2" stroke="#5f6772" stroke-width="1.4"/></g><g transform="translate(289,50)"><rect x="0.6" y="0.6" width="10.8" height="10.8" rx="1.6" stroke="#fff" stroke-width="1.15"/><path d="M0.6 2.7 H11.4 M0.6 6.8 H11.4 M6 2.7 V11.4" stroke="#fff" stroke-width="1.15"/></g><g transform="translate(398,50)"><path d="M0.8 0.8 L11.2 11.2 M11.2 0.8 L0.8 11.2" stroke="#fff" stroke-width="1.4"/></g><g transform="translate(0,0)"><path d="M437.9 52.6 V51.6 Q437.9 50 439.5 50 H448.8 Q450.4 50 450.4 51.6 V52.6 M437.9 59.3 V60.4 Q437.9 62 439.5 62 H448.8 Q450.4 62 450.4 60.4 V59.3" stroke="#70839c" stroke-width="1.3" fill="none"/><ellipse cx="444.1" cy="55.9" rx="4.4" ry="3.05" stroke="#70839c" stroke-width="1.2"/><circle cx="444.1" cy="55.9" r="1.25" fill="#70839c"/></g><g transform="translate(621,50)"><path d="M0.8 0.8 L11.2 11.2 M11.2 0.8 L0.8 11.2" stroke="#5f6772" stroke-width="1.4"/></g><g transform="translate(172,84)"><rect x="0.6" y="0.6" width="10.8" height="10.8" rx="1.6" stroke="#70839c" stroke-width="1.15"/><path d="M0.6 2.7 H11.4 M0.6 6.8 H11.4 M6 2.7 V11.4" stroke="#70839c" stroke-width="1.15"/></g><g transform="translate(0,0)"><g fill="#0a4598"><rect x="569.1" y="84.1" width="1.8" height="11.6"/><rect x="569.1" y="94.4" width="13.8" height="1.3"/><rect x="572.1" y="88.9" width="2.6" height="6"/><rect x="576.2" y="86.1" width="2.7" height="8.8"/><rect x="580.2" y="91.4" width="2.7" height="3.5"/></g></g><g transform="translate(0,0)"><path d="M968.1 86.1 H979.9 M968.1 90.15 H979.9 M968.1 94.2 H979.9" stroke="#70839c" stroke-width="1.25" stroke-opacity="0.85"/><g fill="#70839c"><ellipse cx="977.5" cy="86.1" rx="0.9" ry="2"/><ellipse cx="970.5" cy="90.15" rx="0.9" ry="2"/><ellipse cx="977.5" cy="94.2" rx="0.9" ry="2"/></g></g><g transform="translate(0,0)"><g stroke="#70839c" stroke-width="1.2"><rect x="1370.9" y="88.9" width="2.6" height="2.6" rx="0.3" stroke-width="1"/><rect x="1379.75" y="84.65" width="3.7" height="3.6" rx="0.3" stroke-width="1.1"/><rect x="1379.75" y="91.75" width="3.7" height="3.6" rx="0.3" stroke-width="1.1"/></g><path d="M1374 90.2 H1377.1 M1377.1 86.4 V93.6 M1377.1 86.4 H1379.8 M1377.1 93.6 H1379.8" stroke="#70839c" stroke-width="1" stroke-opacity="0.8"/></g><g transform="translate(24,116)"><path d="M4.7 11.6 A7.3 7.3 0 0 1 18.7 8.7" stroke="#70839c" stroke-width="1.6" fill="none"/><path d="M16.1 9.6 H19.3 V5" stroke="#70839c" stroke-width="1.6" fill="none"/><path d="M19.3 12.4 A7.3 7.3 0 0 1 5.5 15.4" stroke="#70839c" stroke-width="1.6" fill="none"/><path d="M7.9 14.3 H4.7 V19" stroke="#70839c" stroke-width="1.6" fill="none"/></g><g transform="translate(0,0)"><g transform="translate(335.18,118.98) scale(0.73)" stroke="#70839c" stroke-width="2" fill="none" stroke-linecap="round" stroke-linejoin="round"><path d="M11.36 20.213l-2.36 .787v-8.5l-4.48 -4.928a2 2 0 0 1 -.52 -1.345v-2.227h16v2.172a2 2 0 0 1 -.586 1.414l-4.414 4.414"/><path d="M18 18m-3 0a3 3 0 1 0 6 0a3 3 0 1 0 -6 0"/><path d="M20.2 20.2l1.8 1.8"/></g></g><g transform="translate(0,0)"><g transform="translate(432.18,118.98) scale(0.73)" stroke="#70839c" stroke-width="2" fill="none" stroke-linecap="round" stroke-linejoin="round"><path d="M11.36 20.213l-2.36 .787v-8.5l-4.48 -4.928a2 2 0 0 1 -.52 -1.345v-2.227h16v2.172a2 2 0 0 1 -.586 1.414l-4.414 4.414"/><path d="M18 22l3.35 -3.284a2.143 2.143 0 0 0 .005 -3.071a2.242 2.242 0 0 0 -3.129 -.006l-.224 .22l-.223 -.22a2.242 2.242 0 0 0 -3.128 -.006a2.143 2.143 0 0 0 -.006 3.071l3.355 3.296z"/></g></g><g transform="translate(934.5,124)"><path d="M1 1 L6.5 6.5 L12 1" stroke="#5b6470" stroke-width="1.4" fill="none"/></g><g transform="translate(1034.5,124)"><path d="M1 1 L6.5 6.5 L12 1" stroke="#5b6470" stroke-width="1.4" fill="none"/></g><g transform="translate(1127.5,124)"><path d="M1 1 L6.5 6.5 L12 1" stroke="#5b6470" stroke-width="1.4" fill="none"/></g><g transform="translate(1281.5,124)"><path d="M1 1 L6.5 6.5 L12 1" stroke="#5b6470" stroke-width="1.4" fill="none"/></g><g transform="translate(0,0)"><path d="M1322 120.3 V131 M1317.6 126.9 L1322 131.3 L1326.4 126.9 M1316.4 132.6 V133.6 Q1316.4 135 1317.8 135 H1326.6 Q1328 135 1328 133.6 V132.6" stroke="#70839c" stroke-width="1.35" fill="none" stroke-linecap="round" stroke-linejoin="round"/></g><g transform="translate(970,153)"><path d="M4.2 6.6 V4.65 H14.3 V6.6 M9.4 4.65 V15.4 M7.5 15.4 H11.3" stroke="#70839c" stroke-width="1.3" fill="none"/><path d="M13.1 11.2 V10.15 H18.1 V11.2 M15.55 10.15 V15.4 M14.3 15.4 H16.8" stroke="#70839c" stroke-width="1.25" fill="none"/></g><g transform="translate(1294.1,155)"><rect x="0.8" y="2.3" width="12.4" height="12.6" rx="1.6" stroke="#70839c" stroke-width="1.4"/><path d="M0.8 5 H13.2" stroke="#70839c" stroke-width="2.4"/><path d="M3.8 0.4 V3 M10.2 0.4 V3" stroke="#70839c" stroke-width="1.4"/><g fill="#70839c"><rect x="3" y="7.6" width="1.7" height="1.5"/><rect x="6.2" y="7.6" width="1.7" height="1.5"/><rect x="9.3" y="7.6" width="1.7" height="1.5"/><rect x="3" y="10.6" width="1.7" height="1.5"/><rect x="6.2" y="10.6" width="1.7" height="1.5"/><rect x="9.3" y="10.6" width="1.7" height="1.5"/></g></g><g transform="translate(311.0,193.5)"><path d="M0 0 H12 L7.3 5.5 V11.5 H4.9 V5.5 Z" stroke="#70839c" stroke-width="1.2" stroke-linejoin="round" fill="none"/></g><g transform="translate(628.0,193.5)"><path d="M0 0 H12 L7.3 5.5 V11.5 H4.9 V5.5 Z" stroke="#70839c" stroke-width="1.2" stroke-linejoin="round" fill="none"/></g><g transform="translate(945.0,193.5)"><path d="M0 0 H12 L7.3 5.5 V11.5 H4.9 V5.5 Z" stroke="#70839c" stroke-width="1.2" stroke-linejoin="round" fill="none"/></g><g transform="translate(1264.5,193.5)"><path d="M0 0 H12 L7.3 5.5 V11.5 H4.9 V5.5 Z" stroke="#70839c" stroke-width="1.2" stroke-linejoin="round" fill="none"/></g><g transform="translate(1584.5,193.5)"><path d="M0 0 H12 L7.3 5.5 V11.5 H4.9 V5.5 Z" stroke="#70839c" stroke-width="1.2" stroke-linejoin="round" fill="none"/></g></svg>
<div style="position:absolute;left:1588px;top:835px;width:30px;height:31px;border:1px solid #dcdfe3;border-radius:6px;background:#fbfbfb;box-sizing:border-box"></div>
</body></html>
